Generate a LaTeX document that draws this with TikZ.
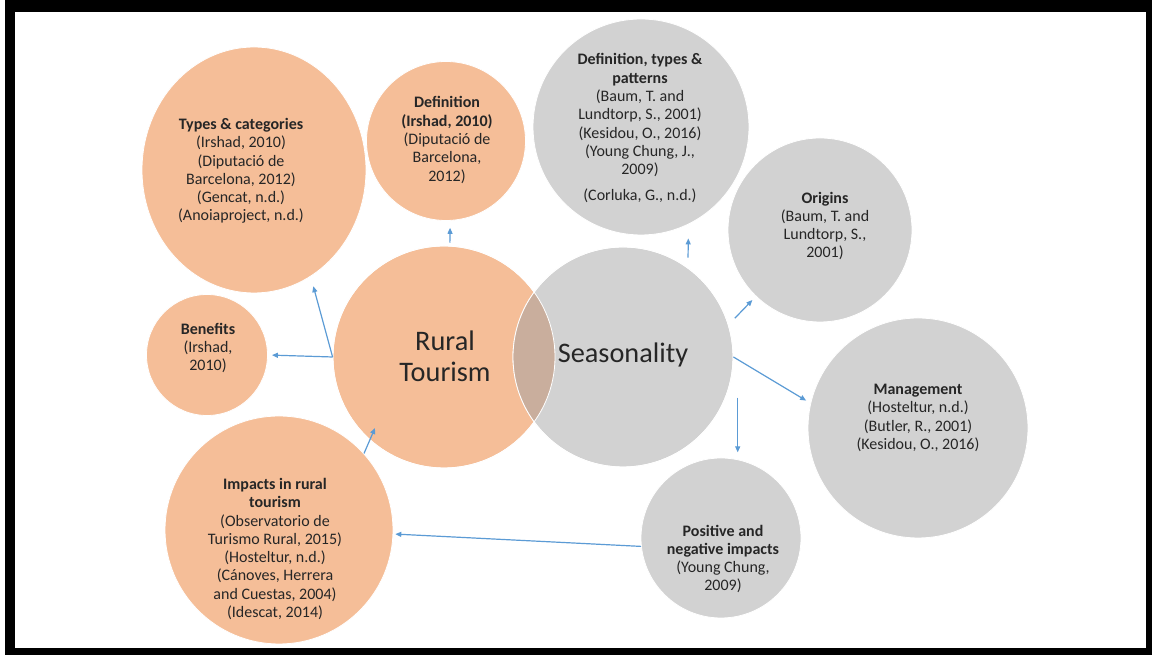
\documentclass[tikz,border=0pt]{standalone}
\usepackage{fontspec}
\setmainfont{Carlito}
\usetikzlibrary{arrows.meta,shapes.geometric}

\definecolor{peach}{HTML}{F5BE98}
\definecolor{silver}{HTML}{D2D2D2}
\definecolor{mixed}{HTML}{C9AE9D}
\definecolor{link}{HTML}{5B9BD5}
\definecolor{ink}{HTML}{262626}

\begin{document}
\begin{tikzpicture}
[x=1pt,y=1pt,
ball/.style={circle,draw=white,line width=0.8pt,inner sep=0pt},
rt/.style={ball,fill=peach},
ss/.style={ball,fill=silver},
txt/.style={align=center,text=ink,font=\fontsize{16}{18.3}\selectfont},
big/.style={align=center,text=ink,font=\fontsize{28.3}{31}\selectfont},
arr/.style={-{Triangle[length=6pt,width=5pt]},draw=link,line width=1.2pt}]

% frame
\fill[black] (5,0) rectangle (1152,655);
\fill[white] (15,7) rectangle (1146,643);
\useasboundingbox (0,0) rectangle (1152,655);

% rural tourism side
\node[rt,ellipse,minimum width=224,minimum height=246] (types) at (254,485) {};
\node[rt,minimum size=159] (definition) at (446,514) {};
\node[rt,minimum size=121] (benefits) at (207,300) {};
\node[rt,minimum size=228] (impacts) at (279,125) {};
\node[rt,minimum size=222] (rural) at (444,298) {};

% seasonality side
\node[ss,minimum size=216] (pattern) at (641,528) {};
\node[ss,minimum size=184] (origins) at (820,425) {};
\node[ss,minimum size=220] (management) at (918,227) {};
\node[ss,minimum size=160] (positive) at (721,117) {};
\node[ss,minimum size=220] (season) at (623,298) {};

% overlap
\begin{scope}
\clip (rural.center) circle[radius=111];
\fill[mixed] (season.center) circle[radius=110];
\end{scope}
\draw[white,line width=0.8pt] (rural.center) circle[radius=111]
  (season.center) circle[radius=110];

\node[txt] (typestxt) at (241,484) {\textbf{Types \& categories}\\(Irshad, 2010)\\(Diputació de\\Barcelona, 2012)\\(Gencat, n.d.)\\(Anoiaproject, n.d.)};
\node[txt] (deftxt) at (447,515) {\textbf{Definition}\\\textbf{(Irshad, 2010)}\\(Diputació de\\Barcelona,\\2012)};
\node[txt] (beneftxt) at (208,307) {\textbf{Benefits}\\(Irshad,\\2010)};
\node[txt] (imptxt) at (275,106) {\textbf{Impacts in rural}\\\textbf{tourism}\\(Observatorio de\\Turismo Rural, 2015)\\(Hosteltur, n.d.)\\(Cánoves, Herrera\\and Cuestas, 2004)\\(Idescat, 2014)};
\node[big] (ruraltxt) at (445,299) {Rural\\Tourism};

\node[txt] (pattxt) at (640,527) {\textbf{Definition, types \&}\\\textbf{patterns}\\(Baum, T. and\\Lundtorp, S., 2001)\\(Kesidou, O., 2016)\\(Young Chung, J.,\\2009)\\[7pt](Corluka, G., n.d.)};
\node[txt] (origtxt) at (825,429) {\textbf{Origins}\\(Baum, T. and\\Lundtorp, S.,\\2001)};
\node[txt] (mgmttxt) at (918,237) {\textbf{Management}\\(Hosteltur, n.d.)\\(Butler, R., 2001)\\(Kesidou, O., 2016)};
\node[txt] (postxt) at (723,96) {\textbf{Positive and}\\\textbf{negative impacts}\\(Young Chung,\\2009)};
\node[big] (seastxt) at (623,300) {Seasonality};

% links
\coordinate (rtip) at (375,227);
\draw[arr,shorten >=4pt] (rural.west) -- (benefits.east);
\draw[arr,shorten >=10pt] (rural.west) -- (types.-62);
\draw[arr,shorten <=3pt,shorten >=7pt] (rural.87) -- (definition.-87);
\draw[arr,shorten <=10pt,shorten >=14pt] (season.54) -- (pattern.-64);
\draw[arr,shorten <=9pt,shorten >=5pt] (season.17) -- (origins.226);
\draw[arr,shorten >=5pt] (season.east) -- (management.167);
\draw[arr,shorten <=3pt,shorten >=7pt] (positive.78 |- season.-20) -- (positive.78);
\draw[arr,shorten >=2pt] (positive.186) -- (impacts.-2);
\draw[arr] (impacts.42) -- (rtip);

\end{tikzpicture}
\end{document}
